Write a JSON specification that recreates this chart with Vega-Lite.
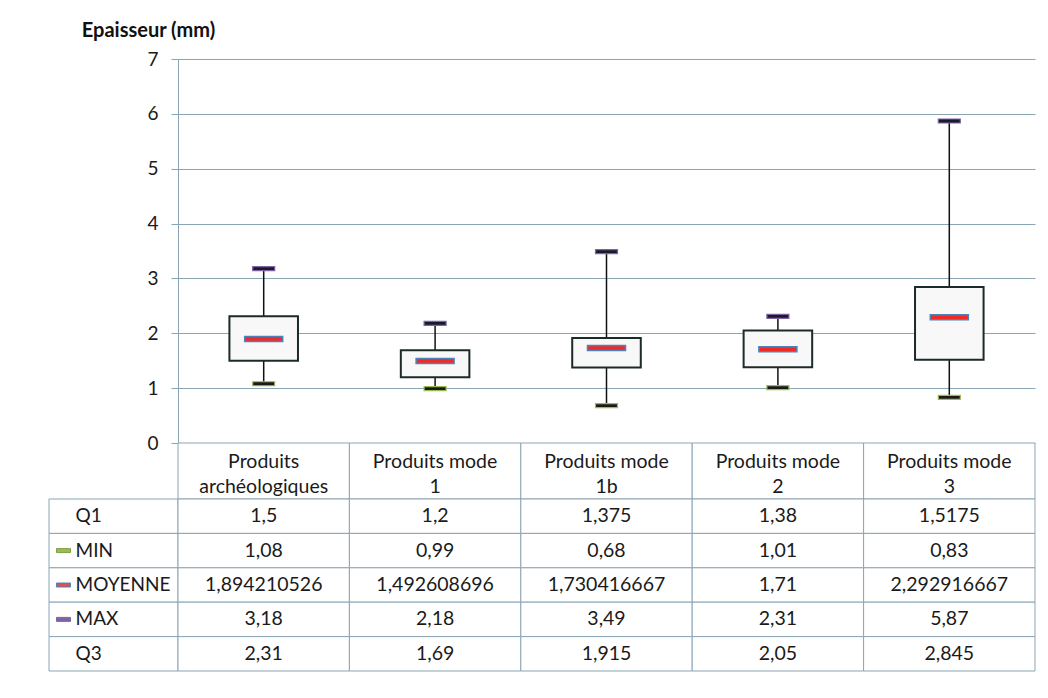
{
  "$schema": "https://vega.github.io/schema/vega-lite/v6.json",
  "padding": {"left": 48, "top": 20, "right": 5, "bottom": 5},
  "background": "white",
  "config": {
    "locale": {"number": {"decimal": ",", "thousands": " ", "grouping": [3], "currency": ["", " €"]}},
    "view": {"stroke": null},
    "font": "Lato",
    "text": {"color": "#1a1a1a", "font": "Lato"}
  },
  "datasets": {
    "stats": [
      {"cat": "Produits archéologiques", "Q1": 1.5, "MIN": 1.08, "MOYENNE": 1.894210526, "MAX": 3.18, "Q3": 2.31},
      {"cat": "Produits mode 1", "Q1": 1.2, "MIN": 0.99, "MOYENNE": 1.492608696, "MAX": 2.18, "Q3": 1.69},
      {"cat": "Produits mode 1b", "Q1": 1.375, "MIN": 0.68, "MOYENNE": 1.730416667, "MAX": 3.49, "Q3": 1.915},
      {"cat": "Produits mode 2", "Q1": 1.38, "MIN": 1.01, "MOYENNE": 1.71, "MAX": 2.31, "Q3": 2.05},
      {"cat": "Produits mode 3", "Q1": 1.5175, "MIN": 0.83, "MOYENNE": 2.292916667, "MAX": 5.87, "Q3": 2.845}
    ],
    "rows": [{"stat": "Q1"}, {"stat": "MIN"}, {"stat": "MOYENNE"}, {"stat": "MAX"}, {"stat": "Q3"}]
  },
  "columns": 2,
  "spacing": 0,
  "bounds": "flush",
  "concat": [
    {"width": 129, "height": 384, "data": {"values": []}, "mark": "point"},
    {
      "width": 857, "height": 384,
      "data": {"name": "stats"},
      "encoding": {
        "x": {"field": "cat", "type": "nominal", "sort": null, "axis": null, "scale": {"paddingInner": 0, "paddingOuter": 0}}
      },
      "layer": [
        {
          "mark": {"type": "rule", "color": "#111111", "strokeWidth": 1.5},
          "encoding": {
            "y": {"field": "MIN", "type": "quantitative", "title": "Epaisseur (mm)",
              "scale": {"domain": [0, 7], "nice": false},
              "axis": {"values": [0, 1, 2, 3, 4, 5, 6, 7], "format": "d", "grid": true, "gridColor": "#8aa5b4", "gridWidth": 1,
                "domainColor": "#8aa5b4", "tickColor": "#8aa5b4", "tickSize": 7, "labelPadding": 13,
                "labelFontSize": 19, "labelColor": "#1a1a1a", "labelFont": "Lato",
                "titleAngle": 0, "titleX": -30, "titleY": -29, "titleAlign": "center", "titleBaseline": "middle",
                "titleFontSize": 20, "titleFontWeight": "bold", "titleColor": "#111111", "titleFont": "Lato"}},
            "y2": {"field": "MAX"}
          }
        },
        {
          "mark": {"type": "bar", "width": {"band": 0.4}, "fill": "#f8f8f8", "stroke": "#1c2a2a", "strokeWidth": 2},
          "encoding": {
            "y": {"field": "Q1", "type": "quantitative", "title": "Epaisseur (mm)"},
            "y2": {"field": "Q3"}
          }
        },
        {
          "mark": {"type": "tick", "orient": "horizontal", "size": 22, "thickness": 4, "color": "#1a1a2e", "stroke": "#8064a2", "strokeWidth": 1.2, "opacity": 1},
          "encoding": {"y": {"field": "MAX", "type": "quantitative", "title": "Epaisseur (mm)"}}
        },
        {
          "mark": {"type": "tick", "orient": "horizontal", "size": 22, "thickness": 4, "color": "#1a1a1a", "stroke": "#9bbb59", "strokeWidth": 1.2, "opacity": 1},
          "encoding": {"y": {"field": "MIN", "type": "quantitative", "title": "Epaisseur (mm)"}}
        },
        {
          "mark": {"type": "tick", "orient": "horizontal", "size": 38, "thickness": 5, "color": "#ee2b24", "stroke": "#4f81bd", "strokeWidth": 1.5, "opacity": 1},
          "encoding": {"y": {"field": "MOYENNE", "type": "quantitative", "title": "Epaisseur (mm)"}}
        }
      ]
    },
    {"width": 129, "height": 56, "data": {"values": []}, "mark": "point"},
    {
      "width": 857, "height": 56,
      "data": {"name": "stats"},
      "transform": [
        {"calculate": "[substring(datum.cat, 0, lastindexof(datum.cat, ' ')), substring(datum.cat, lastindexof(datum.cat, ' ') + 1)]", "as": "lines"}
      ],
      "encoding": {
        "x": {"field": "cat", "type": "nominal", "sort": null, "axis": null, "scale": {"paddingInner": 0, "paddingOuter": 0}}
      },
      "layer": [
        {"mark": {"type": "rect", "fill": "white", "stroke": "#8aa5b4", "strokeWidth": 1}},
        {"mark": {"type": "text", "fontSize": 19.5, "lineHeight": 25, "baseline": "middle", "dy": -9.5},
         "encoding": {"text": {"field": "lines", "type": "nominal"}}}
      ]
    },
    {
      "width": 129, "height": 172,
      "data": {"name": "rows"},
      "encoding": {
        "y": {"field": "stat", "type": "nominal", "sort": ["Q1", "MIN", "MOYENNE", "MAX", "Q3"], "axis": null, "scale": {"paddingInner": 0, "paddingOuter": 0}}
      },
      "layer": [
        {"mark": {"type": "rect", "fill": "white", "stroke": "#8aa5b4", "strokeWidth": 1}},
        {"mark": {"type": "text", "align": "left", "dx": -38, "fontSize": 19},
         "encoding": {"text": {"field": "stat", "type": "nominal"}}},
        {
          "transform": [{"filter": {"field": "stat", "oneOf": ["MIN", "MOYENNE", "MAX"]}}],
          "mark": {"type": "tick", "orient": "horizontal", "size": 14, "thickness": 4, "xOffset": -50, "opacity": 1, "strokeWidth": 1},
          "encoding": {
            "fill": {"field": "stat", "type": "nominal", "legend": null, "scale": {"domain": ["MIN", "MOYENNE", "MAX"], "range": ["#9bbb59", "#d9534f", "#8064a2"]}},
            "stroke": {"field": "stat", "type": "nominal", "legend": null, "scale": {"domain": ["MIN", "MOYENNE", "MAX"], "range": ["#7f9f45", "#4f81bd", "#8064a2"]}}
          }
        }
      ]
    },
    {
      "width": 857, "height": 172,
      "data": {"name": "stats"},
      "transform": [{"fold": ["Q1", "MIN", "MOYENNE", "MAX", "Q3"], "as": ["stat", "value"]}],
      "encoding": {
        "x": {"field": "cat", "type": "nominal", "sort": null, "axis": null, "scale": {"paddingInner": 0, "paddingOuter": 0}},
        "y": {"field": "stat", "type": "nominal", "sort": ["Q1", "MIN", "MOYENNE", "MAX", "Q3"], "axis": null, "scale": {"paddingInner": 0, "paddingOuter": 0}}
      },
      "layer": [
        {"mark": {"type": "rect", "fill": "white", "stroke": "#8aa5b4", "strokeWidth": 1}},
        {"mark": {"type": "text", "fontSize": 19.5},
         "encoding": {"text": {"field": "value", "type": "quantitative", "format": ".10~r"}}}
      ]
    }
  ]
}
